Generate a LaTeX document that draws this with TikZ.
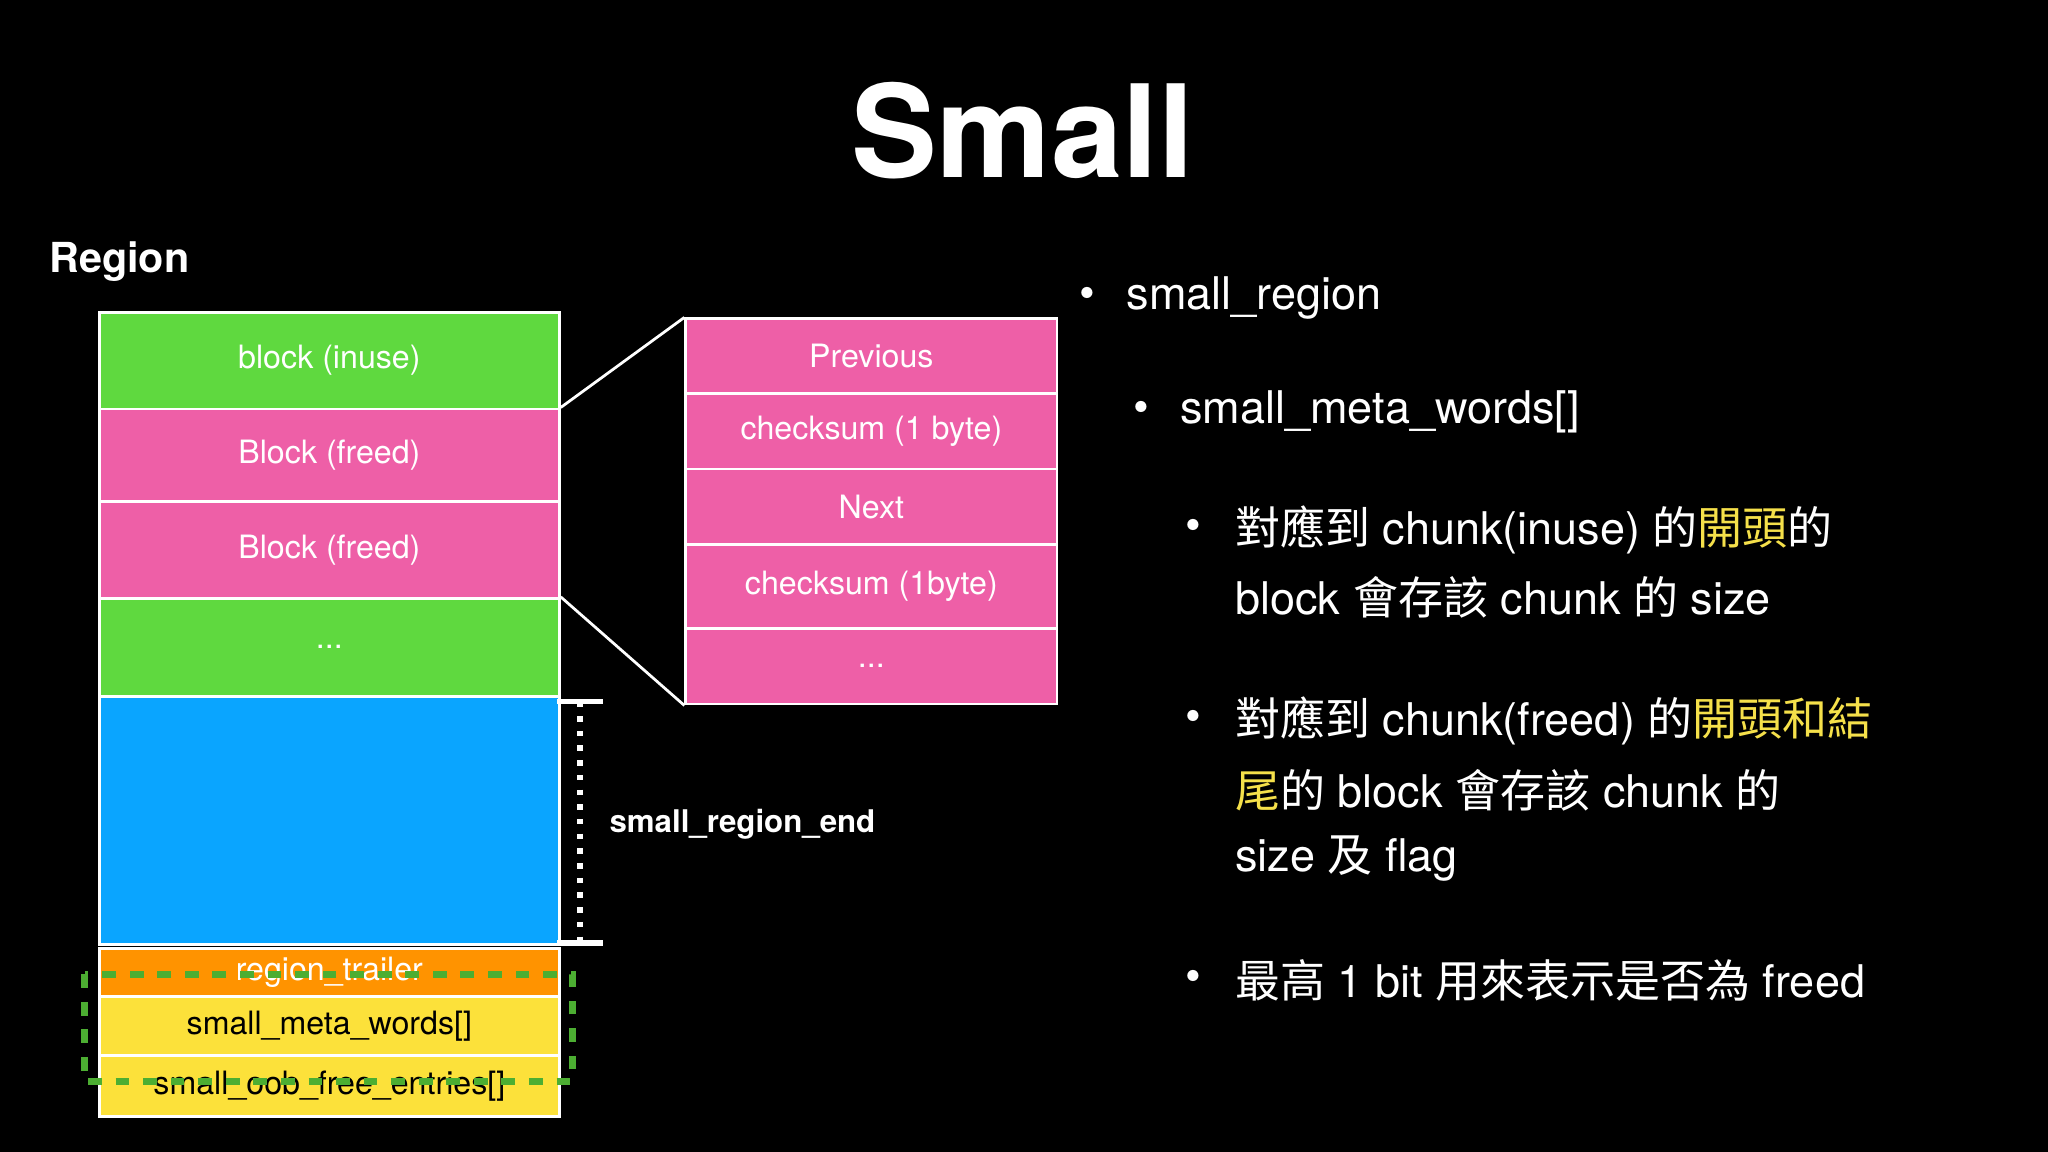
\documentclass[tikz,border=0pt]{standalone}
\usepackage{fontspec}
\setmainfont{TeX Gyre Heros}
\newfontfamily\cjk{Noto Sans CJK TC}
\definecolor{gr}{HTML}{5FD93F}
\definecolor{pk}{HTML}{EE5FA7}
\definecolor{bl}{HTML}{0AA5FF}
\definecolor{og}{HTML}{FF9300}
\definecolor{yw}{HTML}{FCE13A}
\definecolor{yl}{HTML}{F5E04A}
\tikzset{
 cell/.style={draw=white,line width=0.6pt,minimum width=3.52cm,anchor=north west,inner sep=0pt,text=white,font=\fontsize{7}{8}\selectfont},
 rcell/.style={cell,minimum width=2.84cm},
 bul/.style={anchor=west,text=white,inner sep=0pt,font=\fontsize{9.8}{11}\selectfont},
}
\begin{document}
\begin{tikzpicture}[x=0.01cm,y=-0.01cm]
\fill[black] (0,0) rectangle (1568,882);
\useasboundingbox (0,0) rectangle (1568,882);
\node[text=white,font=\bfseries\fontsize{28}{30}\selectfont] (title) at (783,100) {Small};
\node[anchor=west,text=white,inner sep=0pt,font=\bfseries\fontsize{9}{10}\selectfont] (region) at (37,200) {Region};
% left column
\node[cell,fill=gr,minimum height=0.74cm] (b1) at (75,238) {block (inuse)};
\node[cell,fill=pk,minimum height=0.71cm] (b2) at (75,312) {Block (freed)};
\node[cell,fill=pk,minimum height=0.74cm] (b3) at (75,383) {Block (freed)};
\node[cell,fill=gr,minimum height=0.75cm] (b4) at (75,457) {...};
\node[cell,fill=bl,minimum height=1.90cm] (b5) at (75,532) {};
\node[cell,fill=og,minimum height=0.37cm] (b6) at (75,725) {region\_trailer};
\node[cell,fill=yw,text=black,minimum height=0.45cm] (b7) at (75,762) {small\_meta\_words[]};
\node[cell,fill=yw,text=black,minimum height=0.47cm] (b8) at (75,807) {small\_oob\_free\_entries[]};
\draw[draw=gr!80!black,line width=1.5pt,dashed] (65,746) rectangle (438,828);
% right box
\node[rcell,fill=pk,minimum height=0.57cm] (r1) at (524,243) {Previous};
\node[rcell,fill=pk,minimum height=0.58cm] (r2) at (524,300) {checksum (1 byte)};
\node[rcell,fill=pk,minimum height=0.58cm] (r3) at (524,358) {Next};
\node[rcell,fill=pk,minimum height=0.64cm] (r4) at (524,416) {checksum (1byte)};
\node[rcell,fill=pk,minimum height=0.58cm] (r5) at (524,480) {...};
\draw[white,line width=0.6pt] (b2.north east) -- (r1.north west);
\draw[white,line width=0.6pt] (b4.north east) -- (r5.south west);
% bracket
\coordinate (t1) at (444,537);
\coordinate (t2) at (444,722);
\draw[white,line width=1.2pt,dotted] (t1) -- (t2);
\draw[white,line width=1.2pt] ([xshift=-5]t1) -- ([xshift=5]t1) ([xshift=-5]t2) -- ([xshift=5]t2);
\node[anchor=west,text=white,inner sep=0pt,font=\bfseries\fontsize{6.8}{8}\selectfont] (sre) at (466,631) {small\_region\_end};
% bullets
\node[bul] (l1) at (862,228) {small\_region};
\node[bul] at (826,228) {•};
\node[bul] (l2) at (903,315) {small\_meta\_words[]};
\node[bul] at (867,315) {•};
\node[bul] (l3) at (945,406) {{\cjk 對應到} chunk(inuse) {\cjk 的\textcolor{yl}{開頭}的}};
\node[bul] at (907,406) {•};
\node[bul] (l4) at (945,457) {block {\cjk 會存該} chunk {\cjk 的} size};
\node[bul] (l5) at (945,552) {{\cjk 對應到} chunk(freed) {\cjk 的\textcolor{yl}{開頭和結}}};
\node[bul] at (907,552) {•};
\node[bul] (l6) at (945,605) {{\cjk\textcolor{yl}{尾}的} block {\cjk 會存該} chunk {\cjk 的}};
\node[bul] (l7) at (945,657) {size {\cjk 及} flag};
\node[bul] (l8) at (945,751) {{\cjk 最高} 1 bit {\cjk 用來表示是否為} freed};
\node[bul] at (907,751) {•};
\end{tikzpicture}
\end{document}
